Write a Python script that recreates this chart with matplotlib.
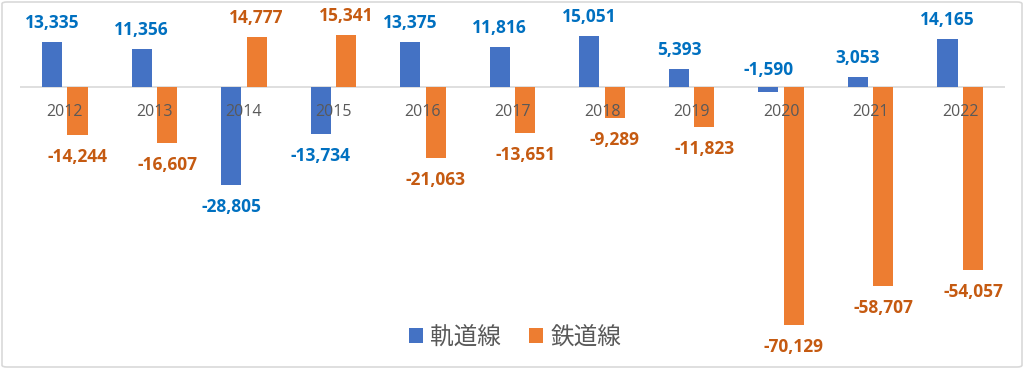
import matplotlib.pyplot as plt
from matplotlib.patches import FancyBboxPatch
import numpy as np

years = ['2012', '2013', '2014', '2015', '2016', '2017', '2018', '2019', '2020', '2021', '2022']
kidou = [13335, 11356, -28805, -13734, 13375, 11816, 15051, 5393, -1590, 3053, 14165]
tetsudou = [-14244, -16607, 14777, 15341, -21063, -13651, -9289, -11823, -70129, -58707, -54057]

BLUE = '#4472C4'
ORANGE = '#ED7D31'
BLUE_TXT = '#0070C0'
ORANGE_TXT = '#C55A11'
GRAY = '#595959'

W, H = 1024, 369
fig = plt.figure(figsize=(W / 100, H / 100), dpi=100)
# axes in pixel terms: x 20..1005, y top 5 .. bottom 360
ax = fig.add_axes([20 / W, (H - 360) / H, 985 / W, 355 / H])

x = np.arange(len(years))
bw = 0.224
off = 0.142
b1 = ax.bar(x - off, kidou, bw, color=BLUE, label='軌道線', zorder=1)
b2 = ax.bar(x + off, tetsudou, bw, color=ORANGE, label='鉄道線', zorder=1)

ax.set_xlim(-0.5, len(years) - 0.5)
ax.set_ylim(-80535, 24190)

def label(bars, vals, color):
    for b, v in zip(bars, vals):
        cx = b.get_x() + b.get_width() / 2
        y = v
        if v >= 0:
            dy = 19
        elif v > -3000:
            # small negative: label sits above the zero line
            y, dy = 0, 17
        else:
            dy = -22
        ax.annotate(f'{v:,}', (cx, y), xytext=(0, dy), textcoords='offset pixels',
                    ha='center', va='center', color=color, fontsize=12.5,
                    fontweight='bold', family='Open Sans', annotation_clip=False)

label(b1, kidou, BLUE_TXT)
label(b2, tetsudou, ORANGE_TXT)

ax.axhline(0, color='#D9D9D9', lw=1.2, zorder=0.5)
for s in ax.spines.values():
    s.set_visible(False)
ax.spines['bottom'].set_position(('data', 0))
ax.set_xticks(x)
ax.set_xticklabels(years, family='Open Sans', fontsize=11.5, color=GRAY)
ax.tick_params(axis='x', length=0, pad=12)
ax.set_yticks([])
ax.patch.set_visible(False)

leg = fig.legend(loc='center', bbox_to_anchor=(515 / W, 32 / H), ncol=2, frameon=False,
                 prop={'family': ['Noto Sans CJK JP', 'DejaVu Sans'], 'size': 17},
                 handlelength=0.6, handleheight=0.6, handletextpad=0.3, columnspacing=1.2,
                 labelcolor=GRAY)

border = FancyBboxPatch((2 / W, 2 / H), 1 - 4 / W, 1 - 4 / H,
                        boxstyle='round,pad=0,rounding_size=0.005',
                        transform=fig.transFigure, fill=False, edgecolor='#D9D9D9', lw=1.2)
fig.patches.append(border)

fig.savefig('out.png', dpi=100)
